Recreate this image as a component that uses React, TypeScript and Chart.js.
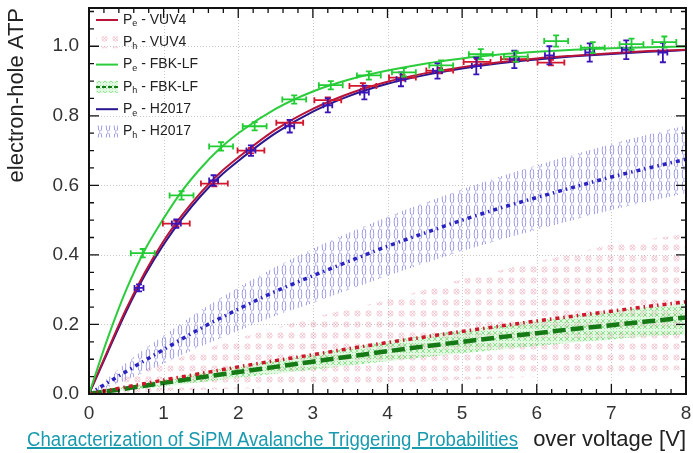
import React, { useEffect, useRef } from "react";
import { Chart, registerables } from "chart.js";

Chart.register(...registerables);

// ---------------- data ----------------
const curveX = [0, 0.25, 0.5, 0.75, 1, 1.25, 1.5, 1.75, 2, 2.5, 3, 3.5, 4, 4.5, 5, 5.5, 6, 6.5, 7, 7.5, 8];
const peVuv4Fit = [0, 0.125, 0.245, 0.35, 0.44, 0.515, 0.58, 0.635, 0.68, 0.76, 0.82, 0.865, 0.898, 0.922, 0.94, 0.954, 0.965, 0.973, 0.98, 0.986, 0.99];
const peFbkFit = [0, 0.16, 0.3, 0.415, 0.505, 0.585, 0.65, 0.705, 0.75, 0.82, 0.87, 0.905, 0.93, 0.95, 0.965, 0.976, 0.984, 0.99, 0.994, 0.997, 0.999];
const peH2017Fit = [0, 0.12, 0.238, 0.342, 0.43, 0.505, 0.57, 0.625, 0.67, 0.75, 0.812, 0.858, 0.892, 0.917, 0.936, 0.951, 0.962, 0.971, 0.978, 0.984, 0.989];

const phX = [0, 0.5, 1, 1.5, 2, 2.5, 3, 3.5, 4, 4.5, 5, 5.5, 6, 6.5, 7, 7.5, 8];
const phVuv4 = [0, 0.02, 0.04, 0.059, 0.078, 0.096, 0.113, 0.131, 0.148, 0.164, 0.18, 0.195, 0.21, 0.224, 0.238, 0.252, 0.265];
const phVuv4Hi = [0, 0.05, 0.09, 0.125, 0.16, 0.19, 0.22, 0.245, 0.27, 0.3, 0.33, 0.355, 0.38, 0.405, 0.43, 0.445, 0.46];
const phVuv4Lo = [0, 0.004, 0.008, 0.012, 0.015, 0.018, 0.021, 0.025, 0.03, 0.035, 0.04, 0.045, 0.05, 0.055, 0.06, 0.065, 0.07];
const phFbk = [0, 0.016, 0.032, 0.048, 0.063, 0.078, 0.093, 0.108, 0.123, 0.137, 0.15, 0.163, 0.175, 0.187, 0.198, 0.209, 0.22];
const phFbkHi = [0, 0.022, 0.042, 0.062, 0.08, 0.098, 0.116, 0.134, 0.152, 0.168, 0.183, 0.198, 0.212, 0.226, 0.239, 0.25, 0.26];
const phFbkLo = [0, 0.01, 0.022, 0.034, 0.046, 0.058, 0.07, 0.082, 0.094, 0.106, 0.117, 0.128, 0.138, 0.148, 0.157, 0.165, 0.172];
const phH2017 = [0, 0.065, 0.128, 0.189, 0.244, 0.295, 0.34, 0.383, 0.425, 0.463, 0.5, 0.534, 0.565, 0.595, 0.624, 0.65, 0.675];
const phH2017Hi = [0, 0.09, 0.168, 0.241, 0.306, 0.365, 0.418, 0.465, 0.51, 0.55, 0.589, 0.625, 0.658, 0.689, 0.719, 0.746, 0.772];
const phH2017Lo = [0, 0.04, 0.088, 0.137, 0.182, 0.225, 0.262, 0.301, 0.34, 0.376, 0.411, 0.443, 0.472, 0.501, 0.529, 0.554, 0.578];

const vuv4X = [1.17, 1.68, 2.17, 2.69, 3.2, 3.67, 4.2, 4.7, 5.2, 5.7, 6.19];
const vuv4Y = [0.49, 0.605, 0.7, 0.78, 0.845, 0.886, 0.91, 0.93, 0.955, 0.963, 0.953];
const vuv4XErr = [0.18, 0.18, 0.18, 0.18, 0.18, 0.18, 0.18, 0.18, 0.18, 0.18, 0.18];
const vuv4YErr = [0.008, 0.008, 0.008, 0.008, 0.008, 0.008, 0.008, 0.008, 0.008, 0.008, 0.008];

const fbkX = [0.72, 1.24, 1.77, 2.22, 2.75, 3.24, 3.75, 4.22, 4.72, 5.25, 5.72, 6.26, 6.75, 7.27, 7.71];
const fbkY = [0.405, 0.571, 0.712, 0.77, 0.847, 0.888, 0.916, 0.925, 0.945, 0.977, 0.97, 1.015, 0.996, 1.006, 1.012];
const fbkXErr = [0.16, 0.16, 0.16, 0.16, 0.16, 0.16, 0.16, 0.16, 0.16, 0.16, 0.16, 0.16, 0.16, 0.16, 0.16];
const fbkYErr = [0.012, 0.012, 0.012, 0.012, 0.012, 0.012, 0.012, 0.012, 0.014, 0.015, 0.015, 0.016, 0.016, 0.016, 0.016];

const h2017X = [0.67, 1.17, 1.67, 2.17, 2.69, 3.2, 3.69, 4.18, 4.67, 5.19, 5.7, 6.17, 6.71, 7.2, 7.69];
const h2017Y = [0.305, 0.49, 0.614, 0.7, 0.77, 0.83, 0.867, 0.905, 0.929, 0.943, 0.962, 0.974, 0.982, 0.99, 0.982];
const h2017XErr = [0.06, 0.06, 0.06, 0.06, 0.06, 0.06, 0.06, 0.06, 0.06, 0.06, 0.06, 0.06, 0.06, 0.06, 0.06];
const h2017YErr = [0.01, 0.012, 0.015, 0.015, 0.018, 0.02, 0.02, 0.02, 0.022, 0.024, 0.025, 0.026, 0.026, 0.027, 0.028];

const legendLabels = ["VUV4", "VUV4", "FBK-LF", "FBK-LF", "H2017", "H2017"];
const legendSubs = ["e", "h", "e", "h", "e", "h"];

const xAxisTitle = "over voltage [V]";
const yAxisTitle = "electron-hole ATP";
const caption = "Characterization of SiPM Avalanche Triggering Probabilities";

// ---------------- colors ----------------
const RED = "#b8143a";
const RED_PH = "#d0162c";
const GREEN = "#2ccc3c";
const GREEN_PH = "#157a15";
const BLUE = "#2a168f";
const BLUE_PH = "#2a22c0";

const pts = (xs: number[], ys: number[]) => xs.map((x, i) => ({ x, y: ys[i] }));

function makePattern(w: number, h: number, draw: (c: CanvasRenderingContext2D) => void) {
  const cv = document.createElement("canvas");
  cv.width = w;
  cv.height = h;
  const c = cv.getContext("2d")!;
  draw(c);
  return c.createPattern(cv, "repeat")!;
}

export default function App() {
  const canvasRef = useRef<HTMLCanvasElement>(null);
  const capRef = useRef<HTMLDivElement>(null);

  useEffect(() => {
    const cap = capRef.current;
    if (cap) {
      cap.style.transform = "none";
      const w = cap.getBoundingClientRect().width;
      cap.style.transform = `scaleX(${491 / w})`;
    }
    const canvas = canvasRef.current!;

    const bluePat = makePattern(8, 12, (c) => {
      c.strokeStyle = "rgba(100,100,215,0.7)";
      c.lineWidth = 0.9;
      c.beginPath();
      c.ellipse(4, 6, 1.8, 5.4, 0, 0, Math.PI * 2);
      c.stroke();
    });
    const pinkPat = makePattern(11, 11, (c) => {
      c.strokeStyle = "rgba(235,140,160,0.55)";
      c.lineWidth = 0.8;
      c.beginPath();
      c.arc(5.5, 5.5, 2.6, 0, Math.PI * 2);
      c.moveTo(3.6, 3.6);
      c.lineTo(7.4, 7.4);
      c.moveTo(7.4, 3.6);
      c.lineTo(3.6, 7.4);
      c.stroke();
    });
    const greenPat = makePattern(6, 6, (c) => {
      c.fillStyle = "rgba(170,235,170,0.35)";
      c.fillRect(0, 0, 6, 6);
      c.strokeStyle = "rgba(60,200,60,0.6)";
      c.lineWidth = 0.8;
      c.beginPath();
      c.moveTo(1, 1);
      c.lineTo(5, 5);
      c.moveTo(5, 1);
      c.lineTo(1, 5);
      c.stroke();
    });

    const frameTicks = {
      id: "frameTicks",
      beforeDatasetsDraw(chart: any) {
        const { ctx, chartArea: a, scales } = chart;
        const xs = scales.x, ys = scales.y;
        ctx.save();
        ctx.strokeStyle = "#c8c8c8";
        ctx.lineWidth = 1;
        ctx.setLineDash([1, 2]);
        for (let v = 1; v < 8; v++) {
          const px = Math.round(xs.getPixelForValue(v)) + 0.5;
          ctx.beginPath();
          ctx.moveTo(px, a.top);
          ctx.lineTo(px, a.bottom);
          ctx.stroke();
        }
        for (let k = 1; k <= 5; k++) {
          const py = Math.round(ys.getPixelForValue(k * 0.2)) + 0.5;
          ctx.beginPath();
          ctx.moveTo(a.left, py);
          ctx.lineTo(a.right, py);
          ctx.stroke();
        }
        ctx.restore();
      },
      afterDatasetsDraw(chart: any) {
        const { ctx, chartArea: a, scales } = chart;
        const xs = scales.x, ys = scales.y;
        ctx.save();
        ctx.strokeStyle = "#111";
        ctx.lineWidth = 1.3;
        for (let k = 0; k <= 40; k++) {
          const v = k * 0.2;
          const px = xs.getPixelForValue(v);
          const len = k % 5 === 0 ? 10 : 5;
          ctx.beginPath();
          ctx.moveTo(px, a.bottom);
          ctx.lineTo(px, a.bottom - len);
          ctx.moveTo(px, a.top);
          ctx.lineTo(px, a.top + len);
          ctx.stroke();
        }
        for (let k = 0; k <= 22; k++) {
          const v = k * 0.05;
          const py = ys.getPixelForValue(v);
          const len = k % 4 === 0 ? 10 : 5;
          ctx.beginPath();
          ctx.moveTo(a.left, py);
          ctx.lineTo(a.left + len, py);
          ctx.moveTo(a.right, py);
          ctx.lineTo(a.right - len, py);
          ctx.stroke();
        }
        ctx.lineWidth = 2;
        ctx.strokeRect(a.left, a.top, a.right - a.left, a.bottom - a.top);
        ctx.restore();
      },
    };

    const errorBars = {
      id: "errorBars",
      afterDatasetsDraw(chart: any) {
        const { ctx, scales } = chart;
        const xs = scales.x, ys = scales.y;
        chart.data.datasets.forEach((ds: any) => {
          if (!ds.xErr) return;
          ctx.save();
          ctx.strokeStyle = ds.errColor;
          ctx.lineWidth = 1.8;
          ds.data.forEach((p: any, i: number) => {
            const px = xs.getPixelForValue(p.x);
            const py = ys.getPixelForValue(p.y);
            const x0 = xs.getPixelForValue(p.x - ds.xErr[i]);
            const x1 = xs.getPixelForValue(p.x + ds.xErr[i]);
            const y0 = ys.getPixelForValue(p.y - ds.yErr[i]);
            const y1 = ys.getPixelForValue(p.y + ds.yErr[i]);
            ctx.beginPath();
            ctx.moveTo(x0, py);
            ctx.lineTo(x1, py);
            ctx.moveTo(x0, py - 3);
            ctx.lineTo(x0, py + 3);
            ctx.moveTo(x1, py - 3);
            ctx.lineTo(x1, py + 3);
            ctx.moveTo(px, y0);
            ctx.lineTo(px, y1);
            ctx.moveTo(px - 3, y0);
            ctx.lineTo(px + 3, y0);
            ctx.moveTo(px - 3, y1);
            ctx.lineTo(px + 3, y1);
            ctx.stroke();
          });
          ctx.restore();
        });
      },
    };

    const legendPlugin = {
      id: "insideLegend",
      afterDraw(chart: any) {
        const { ctx } = chart;
        const x0 = 96, x1 = 118, tx = 123;
        const y0 = 20, dy = 22.3;
        const sym = [
          { line: RED, pat: null, dash: [] as number[], w: 2 },
          { line: null, pat: pinkPat, dash: [] as number[], w: 0 },
          { line: GREEN, pat: null, dash: [] as number[], w: 2 },
          { line: GREEN_PH, pat: greenPat, dash: [4, 2], w: 2 },
          { line: BLUE, pat: null, dash: [] as number[], w: 2 },
          { line: null, pat: bluePat, dash: [] as number[], w: 0 },
        ];
        ctx.save();
        legendLabels.forEach((lab, i) => {
          const y = y0 + i * dy;
          const s = sym[i];
          if (s.pat) {
            ctx.fillStyle = s.pat;
            ctx.fillRect(x0, y - 6, x1 - x0, 12);
          }
          if (s.line) {
            ctx.strokeStyle = s.line;
            ctx.lineWidth = s.w;
            ctx.setLineDash(s.dash);
            ctx.beginPath();
            ctx.moveTo(x0, y);
            ctx.lineTo(x1, y);
            ctx.stroke();
            ctx.setLineDash([]);
          }
          ctx.fillStyle = "#222";
          ctx.textBaseline = "middle";
          ctx.textAlign = "left";
          ctx.font = "14px 'Liberation Sans', Arial, sans-serif";
          ctx.fillText("P", tx, y);
          const pw = ctx.measureText("P").width;
          ctx.font = "9px 'Liberation Sans', Arial, sans-serif";
          ctx.fillText(legendSubs[i], tx + pw, y + 4);
          const sw = ctx.measureText(legendSubs[i]).width;
          ctx.font = "14px 'Liberation Sans', Arial, sans-serif";
          ctx.fillText(" - " + lab, tx + pw + sw, y);
        });
        ctx.restore();
      },
    };

    const lineBase = { pointRadius: 0, pointHoverRadius: 0, fill: false, cubicInterpolationMode: "monotone" as const };
    const band = (hi: number[], lo: number[], pat: CanvasPattern, order: number) => [
      { ...lineBase, data: pts(phX, hi), borderWidth: 0, borderColor: "rgba(0,0,0,0)", backgroundColor: pat, fill: "+1", order },
      { ...lineBase, data: pts(phX, lo), borderWidth: 0, borderColor: "rgba(0,0,0,0)", order },
    ];

    const chart = new Chart(canvas, {
      type: "line",
      data: {
        datasets: [
          { ...lineBase, data: pts(curveX, peFbkFit), borderColor: GREEN, borderWidth: 2, order: 1 },
          { ...lineBase, data: pts(curveX, peVuv4Fit), borderColor: RED, borderWidth: 2, order: 1 },
          { ...lineBase, data: pts(curveX, peH2017Fit), borderColor: BLUE, borderWidth: 2, order: 1 },
          { ...lineBase, data: pts(phX, phVuv4), borderColor: RED_PH, borderWidth: 3.5, borderDash: [4, 4, 1.5, 4], order: 3 },
          { ...lineBase, data: pts(phX, phFbk), borderColor: GREEN_PH, borderWidth: 4.5, borderDash: [13, 5], order: 3 },
          { ...lineBase, data: pts(phX, phH2017), borderColor: BLUE_PH, borderWidth: 3.5, borderDash: [4, 4, 1.5, 4], order: 3 },
          { type: "scatter", data: pts(vuv4X, vuv4Y), pointRadius: 0, showLine: false, xErr: vuv4XErr, yErr: vuv4YErr, errColor: "#d3182e", order: 0 } as any,
          { type: "scatter", data: pts(h2017X, h2017Y), pointRadius: 0, showLine: false, xErr: h2017XErr, yErr: h2017YErr, errColor: "#3a14b8", order: 0 } as any,
          { type: "scatter", data: pts(fbkX, fbkY), pointRadius: 0, showLine: false, xErr: fbkXErr, yErr: fbkYErr, errColor: "#22cc33", order: 0 } as any,
          ...band(phFbkHi, phFbkLo, greenPat, 6),
          ...band(phH2017Hi, phH2017Lo, bluePat, 7),
          ...band(phVuv4Hi, phVuv4Lo, pinkPat, 8),
        ] as any,
      },
      options: {
        responsive: false,
        animation: false,
        devicePixelRatio: 1,
        layout: { padding: { top: 8, right: 7, left: 0, bottom: 0 } },
        plugins: { legend: { display: false }, tooltip: { enabled: false } },
        scales: {
          x: {
            type: "linear",
            min: 0,
            max: 8,
            grid: { display: false, drawTicks: false },
            border: { display: false },
            ticks: {
              stepSize: 1,
              padding: 8,
              color: "#333",
              font: { family: "'Liberation Sans', Arial, sans-serif", size: 19 },
              callback: (v: any) => String(v),
            },
            title: {
              display: true,
              text: xAxisTitle,
              align: "end",
              color: "#222",
              font: { family: "'Liberation Sans', Arial, sans-serif", size: 22 },
              padding: { top: 0, bottom: 0 },
            },
            afterFit: (s: any) => {
              s.height = 59;
              s.paddingLeft = 0;
              s.paddingRight = 0;
            },
          },
          y: {
            type: "linear",
            min: 0,
            max: 1.11,
            grid: { display: false, drawTicks: false },
            border: { display: false },
            ticks: {
              stepSize: 0.2,
              includeBounds: false,
              padding: 10,
              color: "#333",
              font: { family: "'Liberation Sans', Arial, sans-serif", size: 19 },
              callback: (v: any) => Number(v).toFixed(1),
            },
            title: {
              display: true,
              text: yAxisTitle,
              align: "end",
              color: "#222",
              font: { family: "'Liberation Sans', Arial, sans-serif", size: 22 },
              padding: { top: 4, bottom: 0 },
            },
            afterFit: (s: any) => {
              s.width = 89;
              s.paddingTop = 0;
              s.paddingBottom = 0;
            },
          },
        },
      } as any,
      plugins: [frameTicks, errorBars, legendPlugin],
    });
    return () => chart.destroy();
  }, []);

  return (
    <div style={{ position: "absolute", left: 0, top: 0, width: 693, height: 453, background: "#fff", overflow: "hidden" }}>
      <canvas ref={canvasRef} width={693} height={453} style={{ display: "block", width: 693, height: 453 }} />
      <div
        ref={capRef}
        style={{
          position: "absolute",
          left: 27,
          top: 428,
          fontFamily: "'Liberation Sans', Arial, sans-serif",
          fontSize: 20,
          lineHeight: "22px",
          color: "#1a9aae",
          textDecoration: "underline",
          whiteSpace: "nowrap",
          transformOrigin: "left top",
        }}
      >
        {caption}
      </div>
    </div>
  );
}
